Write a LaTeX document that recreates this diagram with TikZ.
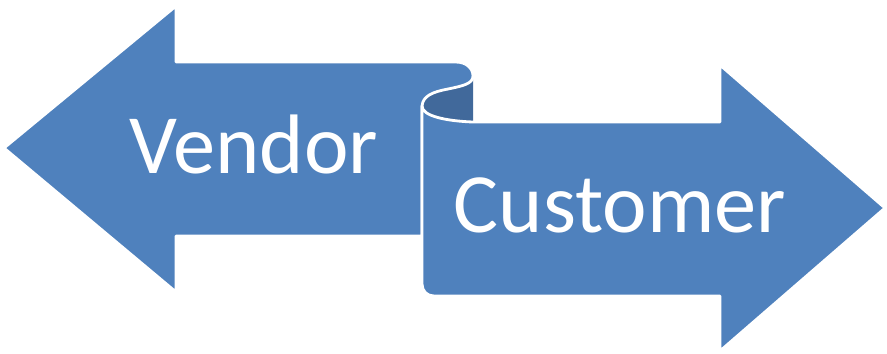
\documentclass[tikz,border=0pt]{standalone}
\usepackage{fontspec}
\setmainfont{Carlito}
\usepackage{xcolor}
\definecolor{bannerblue}{HTML}{4F81BD}
\definecolor{rollblue}{HTML}{41699B}
\tikzset{
	banner/.style = {fill = bannerblue, draw = white, line width = 0.8pt, line join = round},
	label/.style = {text = white, font = \fontsize{24}{28}\selectfont, inner sep = 0pt, anchor = base}
}

\begin{document}
\begin{tikzpicture}[x = 0.01cm, y = -0.01cm]
	\useasboundingbox (0,0) rectangle (887,353);
	% inside of the roll
	\fill [rollblue] (422,106) .. controls (423,96) and (432,92) .. (448,89) .. controls (462,86) and (473,84) .. (473,76) -- (473,122) .. controls (446,121) and (422,116) .. (422,106) -- cycle;
	% left arrow
	\draw [banner] (4,148) -- (176,6) -- (176,62) -- (456,62) .. controls (466,62) and (473,68) .. (473,76) .. controls (473,84) and (462,86) .. (448,89) .. controls (432,92) and (423,96) .. (422,106) -- (422,236) -- (176,236) -- (176,292) -- cycle;
	% right arrow
	\draw [banner] (422,106) .. controls (422,116) and (446,121) .. (473,122) -- (720,122) -- (720,65) -- (885,208) -- (720,351) -- (720,296) -- (434,296) .. controls (427,296) and (422,291) .. (422,284) -- cycle;
	\node [label] (vendor) at (254,173) {Vendor};
	\node [label] (customer) at (620,232) {Customer};
\end{tikzpicture}
\end{document}
